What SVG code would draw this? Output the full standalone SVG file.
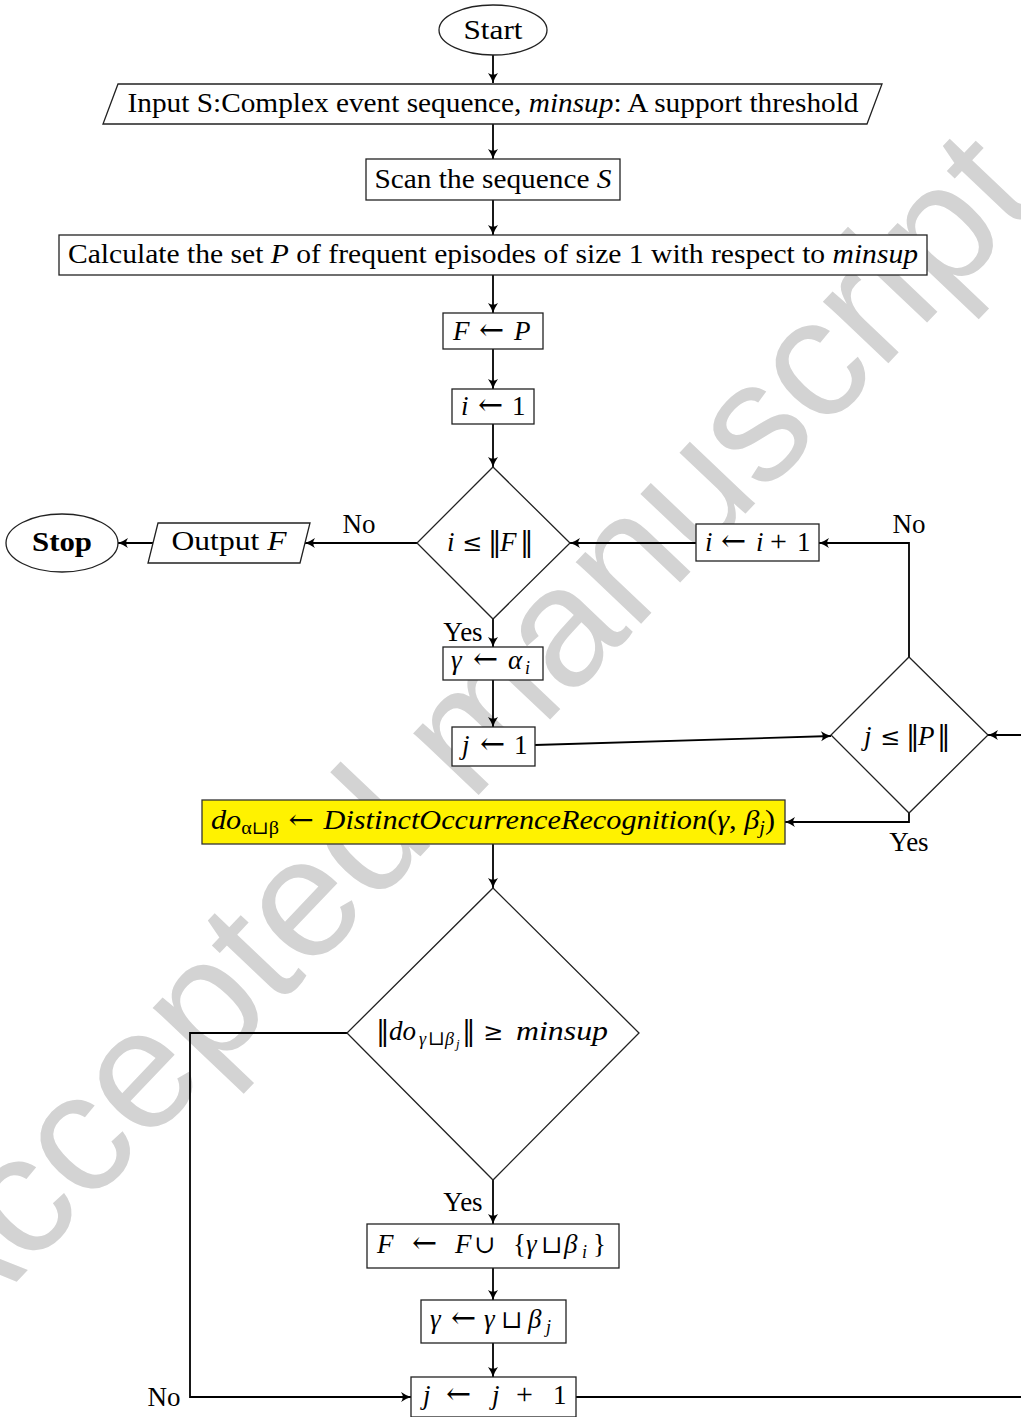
<svg xmlns="http://www.w3.org/2000/svg" width="1021" height="1417" viewBox="0 0 1021 1417">
<style>
.n{fill:#fff;stroke:#222;stroke-width:1.3}
.y{fill:#fff200;stroke:#333;stroke-width:1.3}
.t{font-family:"Liberation Serif","DejaVu Serif",serif;font-size:27px;fill:#000;text-anchor:middle}
.tm{font-family:"Liberation Serif","DejaVu Serif",serif;font-size:27px;fill:#000;text-anchor:start}
.i{font-style:italic}
.s{font-size:18px}
.m{font-family:"DejaVu Serif","DejaVu Sans",serif;font-style:normal;font-weight:normal}
.a{font-size:30px}
.le{font-size:24px}
.cup{font-size:25px}
.c{fill:none;stroke:#000;stroke-width:1.8;marker-end:url(#ah)}
.wm{font-family:"Liberation Sans",Arial,sans-serif;font-size:170px;fill:#d3d3d3}
</style>
<defs>
<marker id="ah" viewBox="-12 -6 13 12" refX="0" refY="0" markerWidth="13" markerHeight="12" markerUnits="userSpaceOnUse" orient="auto">
<path d="M0,0 Q-5,-1.5 -10,-5 Q-6.5,0 -10,5 Q-5,1.5 0,0Z" fill="#000"/>
</marker>
</defs>
<rect width="1021" height="1417" fill="#fff"/>
<text class="wm" transform="translate(-50 1352) rotate(-46.5)">Accepted manuscript</text>

<g id="connectors">
<path class="c" d="M493,55 V83"/>
<path class="c" d="M493,124 V159"/>
<path class="c" d="M493,200 V235"/>
<path class="c" d="M493,275 V313"/>
<path class="c" d="M493,349 V389"/>
<path class="c" d="M493,424 V467"/>
<path class="c" d="M417,543 H305"/>
<path class="c" d="M153,543 H118"/>
<path class="c" d="M696,543 H570"/>
<path class="c" d="M909,657 V543 H819"/>
<path class="c" d="M493,619 V647"/>
<path class="c" d="M493,680 V727"/>
<path class="c" d="M535,745 L831,736"/>
<path class="c" d="M909,813 V822 H785"/>
<path class="c" d="M493,844 V888"/>
<path class="c" d="M493,1180 V1224"/>
<path class="c" d="M493,1268 V1300"/>
<path class="c" d="M493,1343 V1377"/>
<path class="c" d="M347,1033 H190 V1397 H411"/>
<path class="c" d="M576,1397 H1050 V735 H988"/>
<text class="t" x="359" y="533" font-size="26">No</text>
<text class="t" x="909" y="533" font-size="26">No</text>
<text class="t" x="463" y="641" font-size="26">Yes</text>
<text class="t" x="909" y="851" font-size="26">Yes</text>
<text class="t" x="463" y="1211" font-size="26">Yes</text>
<text class="t" x="164" y="1406" font-size="26">No</text>
</g>

<g id="start">
<ellipse class="n" cx="493" cy="30" rx="54" ry="25"/>
<text class="t" x="493" y="39" textLength="59" lengthAdjust="spacingAndGlyphs">Start</text>
</g>
<g id="input">
<polygon class="n" points="118,84 882,84 867,124 103,124"/>
<text class="t" x="493" y="112" textLength="731" lengthAdjust="spacingAndGlyphs">Input S:Complex event sequence, <tspan class="i">minsup</tspan>: A support threshold</text>
</g>
<g id="scan">
<rect class="n" x="366" y="159" width="254" height="41"/>
<text class="t" x="493" y="188" textLength="237" lengthAdjust="spacingAndGlyphs">Scan the sequence <tspan class="i">S</tspan></text>
</g>
<g id="calc">
<rect class="n" x="59" y="235" width="868" height="40"/>
<text class="t" x="493" y="263" textLength="850" lengthAdjust="spacingAndGlyphs">Calculate the set <tspan class="i">P</tspan> of frequent episodes of size 1 with respect to <tspan class="i">minsup</tspan></text>
</g>
<g id="fp">
<rect class="n" x="443" y="313" width="100" height="36"/>
<text class="tm" y="340"><tspan class="i" x="453">F</tspan><tspan class="m a" x="479">←</tspan><tspan class="i" x="514">P</tspan></text>
</g>
<g id="i1">
<rect class="n" x="452" y="389" width="82" height="35"/>
<text class="tm" y="415"><tspan class="i" x="461">i</tspan><tspan class="m a" x="478">←</tspan><tspan x="512">1</tspan></text>
</g>
<g id="condF">
<polygon class="n" points="493,467 570,543 493,619 417,543"/>
<text class="tm" y="551"><tspan class="i" x="447">i</tspan><tspan class="m le" x="462">≤</tspan><tspan class="m" x="488">‖</tspan><tspan class="i" x="500">F</tspan><tspan class="m" x="520">‖</tspan></text>
</g>
<g id="output">
<polygon class="n" points="158,523 310,523 300,563 148,563"/>
<text class="t" x="229" y="550" textLength="115" lengthAdjust="spacingAndGlyphs">Output <tspan class="i">F</tspan></text>
</g>
<g id="stop">
<ellipse class="n" cx="62" cy="543" rx="56" ry="29"/>
<text class="t" x="62" y="551" font-size="28" font-weight="bold" textLength="60" lengthAdjust="spacingAndGlyphs">Stop</text>
</g>
<g id="iinc">
<rect class="n" x="696" y="524" width="123" height="37"/>
<text class="tm" y="551"><tspan class="i" x="705">i</tspan><tspan class="m a" x="721">←</tspan><tspan class="i" x="756">i</tspan><tspan x="770" font-size="30">+</tspan><tspan x="797">1</tspan></text>
</g>
<g id="galpha">
<rect class="n" x="443" y="647" width="100" height="33"/>
<text class="tm" y="669"><tspan class="i" x="451">γ</tspan><tspan class="m a" x="473">←</tspan><tspan class="i" x="508">α</tspan><tspan class="i s" x="525" dy="5">i</tspan></text>
</g>
<g id="j1">
<rect class="n" x="452" y="727" width="83" height="39"/>
<text class="tm" y="754"><tspan class="i" x="462">j</tspan><tspan class="m a" x="480">←</tspan><tspan x="514">1</tspan></text>
</g>
<g id="condP">
<polygon class="n" points="909,657 988,735 909,813 831,735"/>
<text class="tm" y="745"><tspan class="i" x="864">j</tspan><tspan class="m le" x="880">≤</tspan><tspan class="m" x="906">‖</tspan><tspan class="i" x="918">P</tspan><tspan class="m" x="937">‖</tspan></text>
</g>
<g id="doRec">
<rect class="y" x="202" y="800" width="583" height="44"/>
<text class="t" x="493" y="829" textLength="564" lengthAdjust="spacingAndGlyphs"><tspan class="i">do</tspan><tspan class="s" dy="5">α<tspan class="m">⊔</tspan>β</tspan><tspan dy="-5" class="m"> ← </tspan><tspan class="i">DistinctOccurrenceRecognition</tspan>(<tspan class="i">γ</tspan>, <tspan class="i">β</tspan><tspan class="i s" dy="5">j</tspan><tspan dy="-5">)</tspan></text>
</g>
<g id="condSup">
<polygon class="n" points="493,888 639,1033 493,1180 347,1033"/>
<text class="tm" y="1040"><tspan class="m" x="376">‖</tspan><tspan class="i" x="389">do</tspan><tspan class="i s" x="419" dy="5">γ</tspan><tspan class="m" font-size="20" x="428">⊔</tspan><tspan class="i s" x="445">β</tspan><tspan class="i" font-size="13" x="456" dy="3">j</tspan><tspan class="m" x="462" dy="-8">‖</tspan><tspan class="m le" x="483">≥</tspan></text>
<text class="tm i" x="516" y="1040" textLength="92" lengthAdjust="spacingAndGlyphs">minsup</text>
</g>
<g id="fUnion">
<rect class="n" x="367" y="1224" width="252" height="44"/>
<text class="tm" y="1253"><tspan class="i" x="377">F</tspan><tspan class="m a" x="412">←</tspan><tspan class="i" x="455">F</tspan><tspan class="m cup" x="474">∪</tspan><tspan x="513">{</tspan><tspan class="i" x="526">γ</tspan><tspan class="m cup" x="541">⊔</tspan><tspan class="i" x="564">β</tspan><tspan class="i s" x="582" dy="5">i</tspan><tspan x="593" dy="-5">}</tspan></text>
</g>
<g id="gUnion">
<rect class="n" x="421" y="1300" width="145" height="43"/>
<text class="tm" y="1328"><tspan class="i" x="430">γ</tspan><tspan class="m a" x="451">←</tspan><tspan class="i" x="484">γ</tspan><tspan class="m cup" x="501">⊔</tspan><tspan class="i" x="528">β</tspan><tspan class="i s" x="546" dy="5">j</tspan></text>
</g>
<g id="jinc">
<rect class="n" x="411" y="1377" width="165" height="40"/>
<text class="tm" y="1404"><tspan class="i" x="423">j</tspan><tspan class="m a" x="446">←</tspan><tspan class="i" x="492">j</tspan><tspan x="516" font-size="30">+</tspan><tspan x="553">1</tspan></text>
</g>
</svg>
